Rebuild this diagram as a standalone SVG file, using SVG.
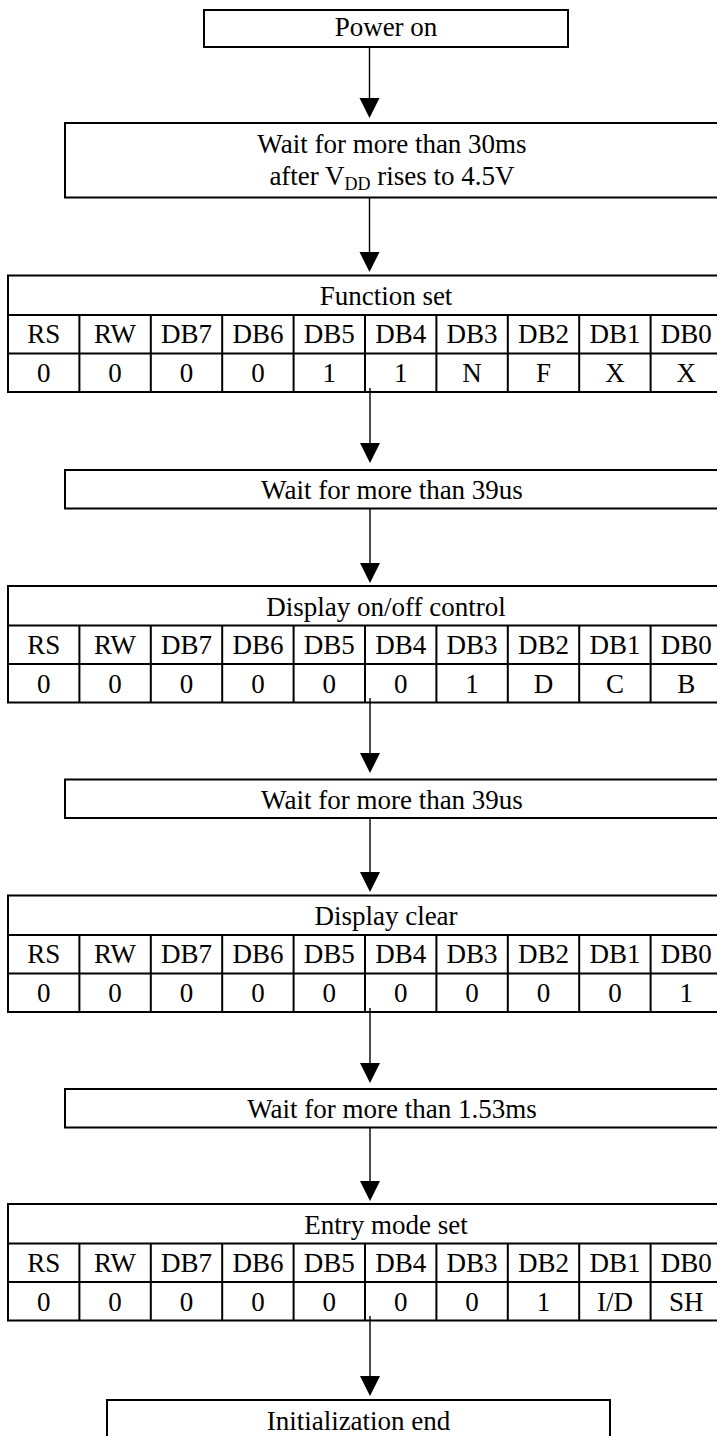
<svg xmlns="http://www.w3.org/2000/svg" width="717" height="1436" viewBox="0 0 717 1436">
<style>
.b{fill:#fff;stroke:#000;stroke-width:2}
.g{stroke:#000;stroke-width:2;fill:none}
.t{font-family:"Liberation Serif","Times New Roman",serif;font-size:27px;fill:#000;text-anchor:middle}
.c line{stroke:#000;stroke-width:1.4}
.c polygon{fill:#000}
</style>
<defs>
<g id="grid">
<rect x="8" y="0" width="714" height="116.5" class="b"/>
<line x1="8" y1="39.5" x2="722" y2="39.5" class="g"/>
<line x1="8" y1="78" x2="722" y2="78" class="g"/>
<path class="g" d="M79.4 39.5V116.5M150.8 39.5V116.5M222.2 39.5V116.5M293.6 39.5V116.5M365 39.5V116.5M436.4 39.5V116.5M507.8 39.5V116.5M579.2 39.5V116.5M650.6 39.5V116.5"/>
<g class="t">
<text x="43.7" y="67.5">RS</text><text x="115.1" y="67.5">RW</text><text x="186.5" y="67.5">DB7</text><text x="257.9" y="67.5">DB6</text><text x="329.3" y="67.5">DB5</text><text x="400.7" y="67.5">DB4</text><text x="472.1" y="67.5">DB3</text><text x="543.5" y="67.5">DB2</text><text x="614.9" y="67.5">DB1</text><text x="686.3" y="67.5">DB0</text>
</g>
</g>
</defs>

<g id="power-on">
<rect x="204" y="10" width="364" height="37" class="b"/>
<text x="386" y="36" class="t">Power on</text>
</g>

<g id="wait-30ms">
<rect x="65" y="123" width="654" height="74.5" class="b"/>
<text x="392" y="153" class="t">Wait for more than 30ms</text>
<text x="392" y="185" class="t">after V<tspan font-size="18" dy="5">DD</tspan><tspan dy="-5"> rises to 4.5V</tspan></text>
</g>

<g id="function-set">
<use href="#grid" y="275.5"/>
<text x="386" y="305" class="t">Function set</text>
<g class="t">
<text x="43.7" y="382">0</text><text x="115.1" y="382">0</text><text x="186.5" y="382">0</text><text x="257.9" y="382">0</text><text x="329.3" y="382">1</text><text x="400.7" y="382">1</text><text x="472.1" y="382">N</text><text x="543.5" y="382">F</text><text x="614.9" y="382">X</text><text x="686.3" y="382">X</text>
</g>
</g>

<g id="wait-39us-1">
<rect x="65" y="470" width="654" height="38.5" class="b"/>
<text x="392" y="499" class="t">Wait for more than 39us</text>
</g>

<g id="display-onoff">
<use href="#grid" y="586"/>
<text x="386" y="615.5" class="t">Display on/off control</text>
<g class="t">
<text x="43.7" y="692.5">0</text><text x="115.1" y="692.5">0</text><text x="186.5" y="692.5">0</text><text x="257.9" y="692.5">0</text><text x="329.3" y="692.5">0</text><text x="400.7" y="692.5">0</text><text x="472.1" y="692.5">1</text><text x="543.5" y="692.5">D</text><text x="614.9" y="692.5">C</text><text x="686.3" y="692.5">B</text>
</g>
</g>

<g id="wait-39us-2">
<rect x="65" y="779.5" width="654" height="38.5" class="b"/>
<text x="392" y="808.5" class="t">Wait for more than 39us</text>
</g>

<g id="display-clear">
<use href="#grid" y="895.5"/>
<text x="386" y="925" class="t">Display clear</text>
<g class="t">
<text x="43.7" y="1002">0</text><text x="115.1" y="1002">0</text><text x="186.5" y="1002">0</text><text x="257.9" y="1002">0</text><text x="329.3" y="1002">0</text><text x="400.7" y="1002">0</text><text x="472.1" y="1002">0</text><text x="543.5" y="1002">0</text><text x="614.9" y="1002">0</text><text x="686.3" y="1002">1</text>
</g>
</g>

<g id="wait-153ms">
<rect x="65" y="1089" width="654" height="38.5" class="b"/>
<text x="392" y="1118" class="t">Wait for more than 1.53ms</text>
</g>

<g id="entry-mode">
<use href="#grid" y="1204"/>
<text x="386" y="1233.5" class="t">Entry mode set</text>
<g class="t">
<text x="43.7" y="1310.5">0</text><text x="115.1" y="1310.5">0</text><text x="186.5" y="1310.5">0</text><text x="257.9" y="1310.5">0</text><text x="329.3" y="1310.5">0</text><text x="400.7" y="1310.5">0</text><text x="472.1" y="1310.5">0</text><text x="543.5" y="1310.5">1</text><text x="614.9" y="1310.5">I/D</text><text x="686.3" y="1310.5">SH</text>
</g>
</g>

<g id="init-end">
<rect x="107" y="1400" width="503" height="50" class="b"/>
<text x="358.5" y="1430" class="t">Initialization end</text>
</g>

<g id="connectors" class="c">
<line x1="369.5" y1="47" x2="369.5" y2="99"/><polygon points="359.5,98 379.5,98 369.5,118"/>
<line x1="369.5" y1="197.5" x2="369.5" y2="253"/><polygon points="359.5,252 379.5,252 369.5,272"/>
<line x1="370" y1="388" x2="370" y2="444"/><polygon points="360,443 380,443 370,463"/>
<line x1="370" y1="508.5" x2="370" y2="564"/><polygon points="360,563 380,563 370,583"/>
<line x1="370" y1="698" x2="370" y2="754"/><polygon points="360,753 380,753 370,773"/>
<line x1="370" y1="818" x2="370" y2="873"/><polygon points="360,872 380,872 370,892"/>
<line x1="370" y1="1008" x2="370" y2="1064"/><polygon points="360,1063 380,1063 370,1083"/>
<line x1="370" y1="1127.5" x2="370" y2="1182"/><polygon points="360,1181 380,1181 370,1201"/>
<line x1="370" y1="1316" x2="370" y2="1377"/><polygon points="360,1376 380,1376 370,1396"/>
</g>
</svg>
